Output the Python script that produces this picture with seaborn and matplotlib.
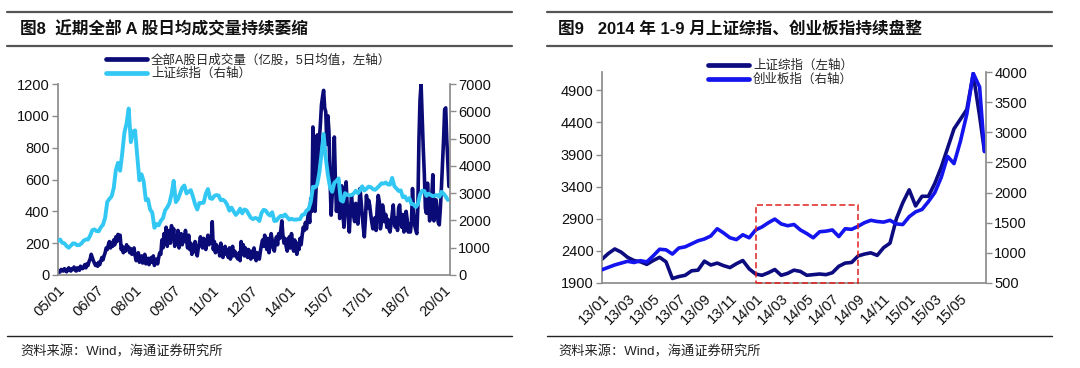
import numpy as np
import matplotlib.pyplot as plt
import seaborn as sns
from matplotlib.lines import Line2D
from matplotlib.patches import Rectangle

# ---- 图8: turnover (亿股, 5-day mean) twice a month, 2005/01 - 2020/03
turnover_2005 = [15, 25, 20, 35, 30, 25, 40, 30, 20, 35, 45, 30, 25, 40, 35, 50, 30, 25, 45, 40, 30, 55, 45, 40]
turnover_2006 = [50, 65, 45, 70, 60, 85, 100, 130, 110, 90, 75, 60, 70, 55, 80, 65, 90, 110, 95, 120, 140, 170, 160, 190]
turnover_2007 = [210, 170, 200, 180, 220, 190, 240, 210, 255, 230, 250, 160, 180, 140, 170, 150, 190, 160, 175, 140, 165, 130, 150, 170]
turnover_2008 = [120, 90, 110, 140, 80, 100, 120, 75, 95, 130, 70, 85, 105, 65, 90, 110, 80, 120, 60, 85, 100, 70, 110, 140]
turnover_2009 = [130, 220, 170, 260, 200, 300, 180, 250, 280, 200, 310, 230, 290, 180, 240, 200, 280, 170, 230, 260, 190, 250, 210, 280]
turnover_2010 = [220, 170, 250, 160, 200, 130, 180, 150, 210, 140, 120, 170, 200, 240, 190, 170, 230, 200, 160, 210, 250, 190, 230, 200]
turnover_2011 = [335, 160, 210, 140, 190, 150, 170, 120, 200, 140, 110, 160, 180, 130, 150, 110, 170, 100, 140, 180, 120, 150, 130, 110]
turnover_2012 = [100, 140, 90, 210, 150, 190, 120, 170, 140, 110, 160, 120, 100, 150, 110, 170, 130, 90, 140, 120, 100, 150, 190, 220]
turnover_2013 = [180, 250, 200, 160, 230, 140, 190, 260, 220, 170, 150, 210, 240, 190, 260, 230, 280, 340, 250, 200, 230, 180, 150, 190]
turnover_2014 = [240, 170, 260, 200, 150, 220, 180, 130, 200, 160, 230, 190, 250, 300, 280, 330, 290, 350, 400, 330, 480, 400, 930, 420]
turnover_2015 = [400, 550, 880, 700, 850, 950, 1070, 1120, 1160, 1050, 1025, 820, 1000, 900, 606, 376, 500, 640, 867, 600, 400, 520, 585, 355]
turnover_2016 = [420, 560, 380, 300, 480, 585, 440, 350, 270, 400, 500, 430, 370, 335, 450, 380, 320, 420, 543, 460, 380, 300, 240, 350]
turnover_2017 = [500, 420, 470, 440, 380, 330, 290, 310, 360, 280, 420, 500, 460, 290, 330, 440, 400, 335, 380, 300, 350, 290, 270, 320]
turnover_2018 = [380, 440, 330, 300, 360, 280, 420, 440, 330, 300, 380, 270, 300, 400, 350, 270, 320, 270, 330, 543, 400, 313, 283, 260]
turnover_2019 = [430, 850, 1100, 1200, 997, 800, 640, 420, 388, 577, 450, 340, 420, 500, 630, 340, 380, 472, 400, 330, 315, 420, 550, 700]
turnover_2020 = [850, 1040, 1050, 850, 700, 556]

# ---- 图8: 上证综指, monthly, 2005/01 - 2020/03
sse_2005 = [1250, 1300, 1180, 1160, 1060, 1000, 1080, 1160, 1150, 1090, 1100, 1160]
sse_2006 = [1260, 1300, 1300, 1440, 1640, 1670, 1610, 1600, 1750, 1840, 2100, 2680]
sse_2007 = [2790, 2880, 3180, 3840, 4110, 3820, 4470, 5220, 5550, 6100, 4870, 5260]
sse_2008 = [5300, 4350, 3470, 3690, 3430, 2740, 2780, 2400, 2290, 1730, 1870, 1820]
sse_2009 = [1990, 2080, 2370, 2480, 2630, 2960, 3450, 2670, 2780, 2990, 3200, 3280]
sse_2010 = [2990, 3050, 3110, 2870, 2590, 2400, 2640, 2640, 2650, 2980, 3150, 2810]
sse_2011 = [2790, 2900, 2930, 2910, 2740, 2760, 2700, 2570, 2360, 2470, 2330, 2200]
sse_2012 = [2290, 2430, 2260, 2400, 2370, 2230, 2100, 2050, 2090, 2070, 1980, 2270]
sse_2013 = [2390, 2360, 2240, 2180, 2300, 1980, 1990, 2100, 2170, 2140, 2220, 2120]
sse_2014 = [2030, 2060, 2030, 2030, 2040, 2050, 2200, 2220, 2360, 2420, 2680, 3230]
sse_2015 = [3210, 3310, 3750, 4440, 5170, 4280, 3660, 3210, 3050, 3380, 3450, 3540]
sse_2016 = [2740, 2690, 3000, 2940, 2920, 2930, 2980, 3090, 3000, 3100, 3250, 3100]
sse_2017 = [3160, 3240, 3220, 3150, 3120, 3190, 3270, 3360, 3350, 3390, 3320, 3310]
sse_2018 = [3560, 3260, 3170, 3080, 3100, 2850, 2880, 2730, 2820, 2600, 2590, 2490]
sse_2019 = [2590, 2940, 3090, 3080, 2900, 2980, 2930, 2890, 2910, 2930, 2870, 3050]
sse_2020 = [2980, 2880, 2750]

left_xticklabels = ['05/01', '06/07', '08/01', '09/07', '11/01', '12/07',
                    '14/01', '15/07', '17/01', '18/07', '20/01']

# ---- 图9: twice a month, 2013/01 - 2015/06 (+ last close)
sse_2013_h = [2270, 2360, 2430, 2380, 2300, 2250, 2230, 2190, 2250, 2300, 2230, 1970,
              2000, 2020, 2090, 2100, 2240, 2180, 2210, 2170, 2140, 2200, 2250, 2120]
sse_2014_h = [2040, 2020, 2060, 2110, 2020, 2050, 2100, 2080, 2020, 2030, 2040, 2030,
              2060, 2160, 2210, 2220, 2320, 2350, 2370, 2330, 2450, 2520, 2900, 3150]
sse_2015_h = [3350, 3100, 3250, 3250, 3450, 3700, 4000, 4300, 4450, 4600, 5150, 4500, 3950]

gem_2013_h = [720, 760, 800, 830, 860, 840, 870, 850, 950, 1060, 1050, 980,
              1080, 1100, 1150, 1200, 1230, 1280, 1400, 1330, 1250, 1220, 1300, 1250]
gem_2014_h = [1380, 1430, 1500, 1560, 1480, 1450, 1470, 1380, 1320, 1250, 1350, 1360,
              1380, 1270, 1400, 1390, 1440, 1500, 1540, 1520, 1510, 1540, 1480, 1470]
gem_2015_h = [1600, 1680, 1720, 1850, 2000, 2250, 2600, 2480, 2850, 3300, 3980, 3750, 2680]

right_xticklabels = ['13/01', '13/03', '13/05', '13/07', '13/09', '13/11', '14/01', '14/03',
                     '14/05', '14/07', '14/09', '14/11', '15/01', '15/03', '15/05']

box_x = ('14/01', '14/09')
box_top = 3112


def to_year(label):
    yy, mm = label.split('/')
    return 2000 + int(yy) + (int(mm) - 1) / 12


def style_pair(ax, ax2):
    grey = '#8c8c8c'
    for s in list(ax.spines.values()) + list(ax2.spines.values()):
        s.set_color(grey)
    ax.spines['top'].set_visible(False)
    ax.spines['right'].set_visible(False)
    ax2.spines['top'].set_visible(False)
    ax2.spines['left'].set_visible(False)
    ax2.spines['bottom'].set_visible(False)
    for a in (ax, ax2):
        a.tick_params(direction='out', length=4, width=1, color=grey,
                      labelsize=10.5, labelcolor='#111111', pad=2)
        a.set_xlabel('')
        a.set_ylabel('')
        a.grid(False)


sns.set_theme(style='white')
plt.rcParams['font.family'] = ['Liberation Sans', 'Noto Sans CJK SC']

fig = plt.figure(figsize=(10.8, 3.68), dpi=100)

# ---------------- left chart
turnover = np.array(sum([turnover_2005, turnover_2006, turnover_2007, turnover_2008,
                         turnover_2009, turnover_2010, turnover_2011, turnover_2012,
                         turnover_2013, turnover_2014, turnover_2015, turnover_2016,
                         turnover_2017, turnover_2018, turnover_2019, turnover_2020], []))
sse = np.array(sum([sse_2005, sse_2006, sse_2007, sse_2008, sse_2009, sse_2010, sse_2011,
                    sse_2012, sse_2013, sse_2014, sse_2015, sse_2016, sse_2017, sse_2018,
                    sse_2019, sse_2020], []))
half_months = 2005 + np.arange(len(turnover)) / 24
months = 2005 + np.arange(len(sse)) / 12

ax = fig.add_axes([58 / 1080, 1 - 275 / 368, 392 / 1080, 191 / 368])
ax2 = ax.twinx()
sns.lineplot(x=half_months, y=turnover, ax=ax, color='#0b0b78', linewidth=2.6)
sns.lineplot(x=months, y=sse, ax=ax2, color='#33c8f4', linewidth=2.8)
ax.set_xlim(2005, 2020.25)
ax.set_ylim(0, 1200)
ax2.set_ylim(0, 7000)
ax.set_yticks(range(0, 1201, 200))
ax2.set_yticks(range(0, 7001, 1000))
ax.set_xticks([to_year(t) for t in left_xticklabels])
ax.set_xticklabels(left_xticklabels, rotation=45, ha='right', rotation_mode='anchor')
style_pair(ax, ax2)

handles = [Line2D([], [], color='#0b0b78', lw=3.4), Line2D([], [], color='#33c8f4', lw=3.4)]
ax2.legend(handles, ['全部A股日成交量（亿股，5日均值，左轴）', '上证综指（右轴）'],
           loc='upper left', bbox_to_anchor=(106 / 1080, 1 - 54 / 368),
           bbox_transform=fig.transFigure, frameon=False, fontsize=9,
           handlelength=3.3, handletextpad=0.3, labelspacing=0.12,
           borderpad=0, borderaxespad=0)

# ---------------- right chart
sse_h = np.array(sse_2013_h + sse_2014_h + sse_2015_h)
gem_h = np.array(gem_2013_h + gem_2014_h + gem_2015_h)
halves = 2013 + np.arange(len(sse_h)) / 24
halves[-1] = 2015.49

bx = fig.add_axes([602 / 1080, 1 - 283 / 368, 384 / 1080, 211 / 368])
bx2 = bx.twinx()
sns.lineplot(x=halves, y=sse_h, ax=bx, color='#0c0c80', linewidth=2.6)
sns.lineplot(x=halves, y=gem_h, ax=bx2, color='#1414ee', linewidth=2.6)
bx.set_xlim(2013, 2015.5)
bx.set_ylim(1900, 5185)
bx2.set_ylim(500, 4000)
bx.set_yticks(range(1900, 4901, 500))
bx2.set_yticks(range(500, 4001, 500))
bx.set_xticks([to_year(t) for t in right_xticklabels])
bx.set_xticklabels(right_xticklabels, rotation=45, ha='right', rotation_mode='anchor')
style_pair(bx, bx2)

x0, x1 = to_year(box_x[0]), to_year(box_x[1])
bx2.add_patch(Rectangle((x0, 1900), x1 - x0, box_top - 1900, transform=bx.transData,
                        fill=False, edgecolor='#e02020', linestyle=(0, (4, 2)),
                        linewidth=1.1, clip_on=False, zorder=5))

handles = [Line2D([], [], color='#0c0c80', lw=3.4), Line2D([], [], color='#1414ee', lw=3.4)]
bx2.legend(handles, ['上证综指（左轴）', '创业板指（右轴）'],
           loc='upper left', bbox_to_anchor=(708 / 1080, 1 - 60 / 368),
           bbox_transform=fig.transFigure, frameon=False, fontsize=9,
           handlelength=3.3, handletextpad=0.3, labelspacing=0.12,
           borderpad=0, borderaxespad=0)

# ---------------- titles, rules, sources
for xa, xb in [(7, 512), (547, 1052)]:
    fig.add_artist(Line2D([xa / 1080, xb / 1080], [1 - 12 / 368] * 2, color='#555555', lw=1.6))
    fig.add_artist(Line2D([xa / 1080, xb / 1080], [1 - 46 / 368] * 2, color='#555555', lw=1.6))
    fig.add_artist(Line2D([xa / 1080, xb / 1080], [1 - 336 / 368] * 2, color='#222222', lw=1.0))

fig.text(20 / 1080, 1 - 29 / 368, '图8  近期全部 A 股日均成交量持续萎缩', fontsize=12,
         fontweight='bold', va='center', ha='left', color='#111111')
fig.text(558 / 1080, 1 - 29 / 368, '图9   2014 年 1-9 月上证综指、创业板指持续盘整', fontsize=12,
         fontweight='bold', va='center', ha='left', color='#111111')
fig.text(20 / 1080, 1 - 352 / 368, '资料来源：Wind，海通证券研究所', fontsize=9.5,
         va='center', ha='left', color='#222222')
fig.text(558 / 1080, 1 - 352 / 368, '资料来源：Wind，海通证券研究所', fontsize=9.5,
         va='center', ha='left', color='#222222')

fig.savefig('out.png', dpi=100)
